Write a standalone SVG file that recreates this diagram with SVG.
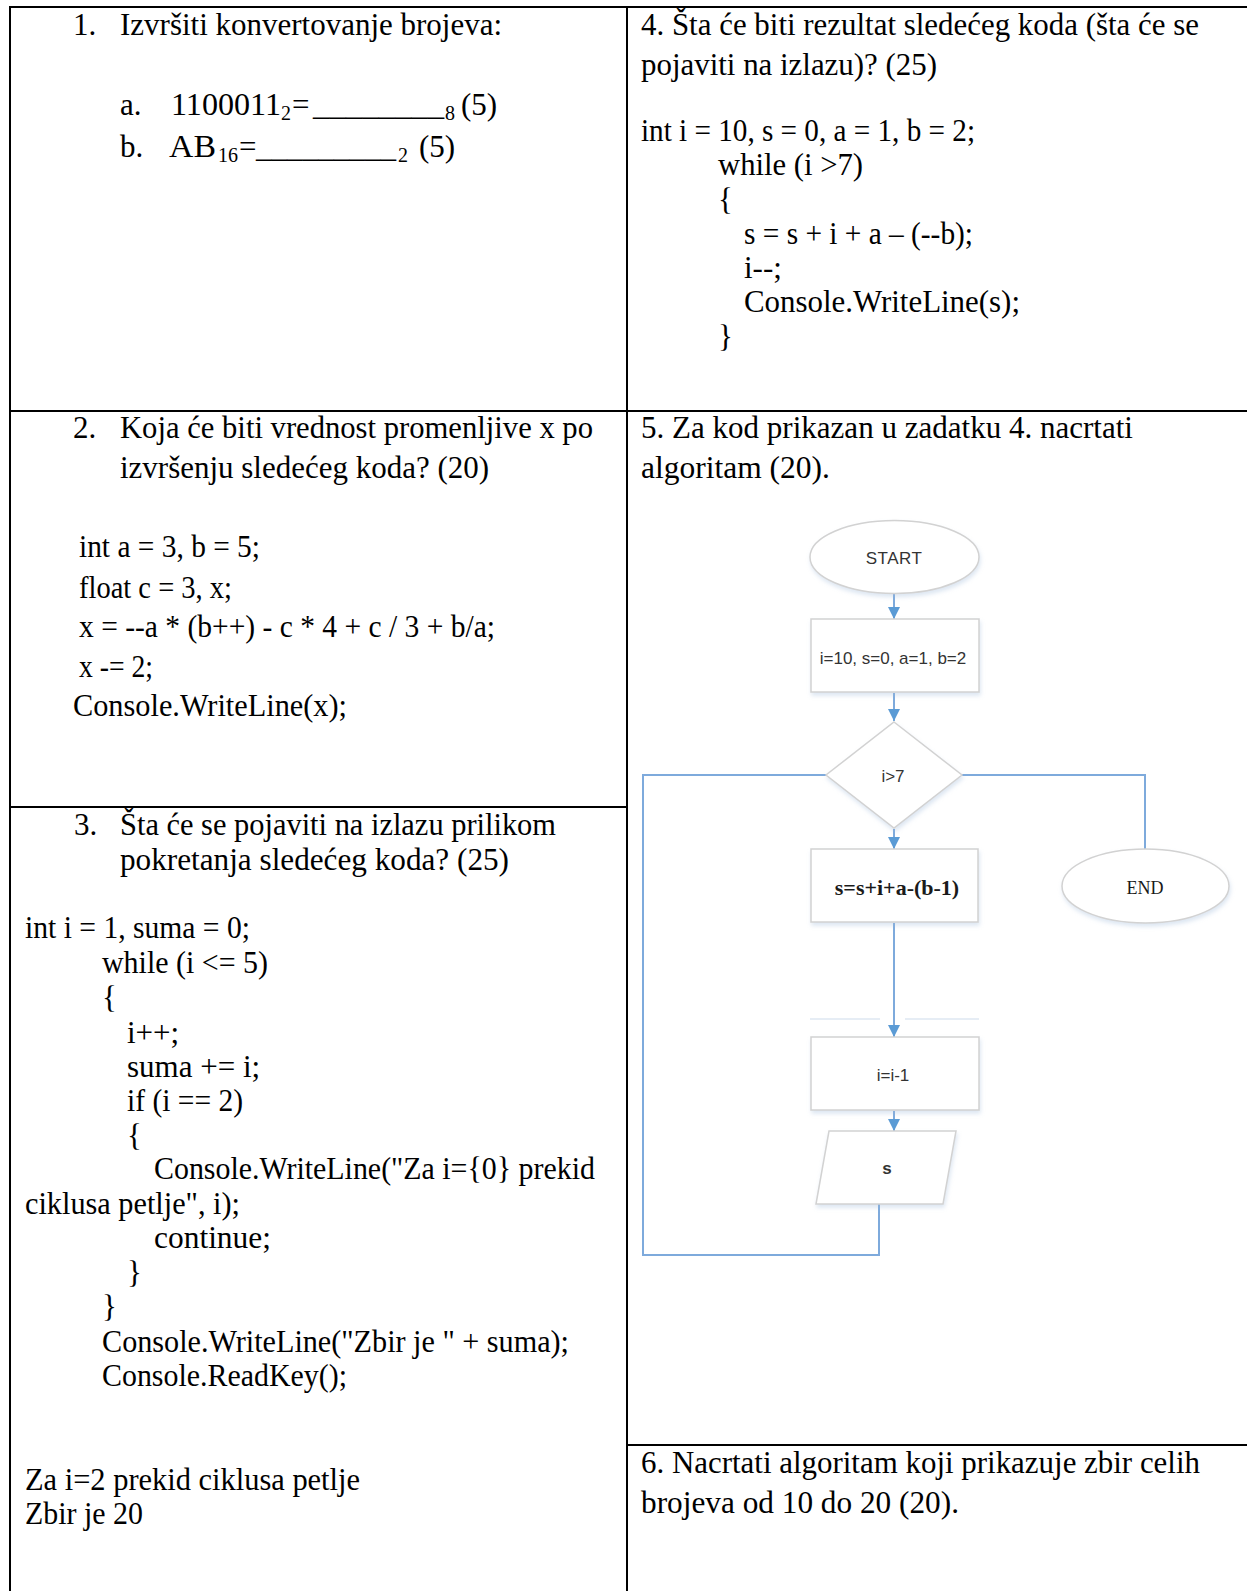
<svg xmlns="http://www.w3.org/2000/svg" width="1247" height="1591" viewBox="0 0 1247 1591">
  <style>
    .t { font-family: "Liberation Serif", "Times New Roman", serif; font-size: 31px; fill: #000; }
    .t text { }
    .sub { font-size: 20px; }
    .grid { stroke: #000; stroke-width: 2; fill: none; }
    .shape { fill: #fff; stroke: #d2d2d2; stroke-width: 1.5; filter: url(#soft); }
    .fl { font-family: "Liberation Sans", Arial, sans-serif; font-size: 17px; fill: #333; text-anchor: middle; }
    .fs { font-family: "Liberation Serif", "Times New Roman", serif; fill: #1a1a1a; text-anchor: middle; }
    .conn { stroke: #7eaadc; stroke-width: 2; fill: none; }
    .faint { stroke: #e6edf5; stroke-width: 2; fill: none; }
  </style>
  <defs>
    <marker id="arrow" viewBox="0 0 12 12" refX="12" refY="6" markerWidth="12" markerHeight="12" markerUnits="userSpaceOnUse" orient="auto">
      <path d="M0,0 L12,6 L0,12 z" fill="#5b9bd5"/>
    </marker>
    <filter id="soft" x="-10%" y="-10%" width="125%" height="135%">
      <feDropShadow dx="1" dy="3" stdDeviation="2" flood-color="#9db8d9" flood-opacity="0.35"/>
    </filter>
  </defs>

  <rect x="0" y="0" width="1247" height="1591" fill="#fff"/>

  <!-- table rules -->
  <g id="table" class="grid">
    <line x1="9" y1="7" x2="1247" y2="7"/>
    <line x1="10" y1="6" x2="10" y2="1591"/>
    <line x1="627" y1="6" x2="627" y2="1591"/>
    <line x1="9" y1="411" x2="1247" y2="411"/>
    <line x1="9" y1="807" x2="627" y2="807"/>
    <line x1="627" y1="1445" x2="1247" y2="1445"/>
  </g>

  <!-- task 1 -->
  <g id="task1" class="t">
    <text x="73" y="35">1.</text>
    <text x="120" y="35" textLength="382" lengthAdjust="spacingAndGlyphs">Izvršiti konvertovanje brojeva:</text>
    <text x="120" y="115">a.</text>
    <text x="171" y="115" textLength="110" lengthAdjust="spacingAndGlyphs">1100011</text>
    <text x="281" y="120" class="sub">2</text>
    <text x="292" y="115">=</text>
    <text x="313" y="115" textLength="131" lengthAdjust="spacingAndGlyphs">________</text>
    <text x="445" y="120" class="sub">8</text>
    <text x="461" y="115">(5)</text>
    <text x="120" y="157">b.</text>
    <text x="169" y="157" textLength="47" lengthAdjust="spacingAndGlyphs">AB</text>
    <text x="218" y="162" class="sub">16</text>
    <text x="239" y="157">=</text>
    <text x="256" y="157" textLength="140" lengthAdjust="spacingAndGlyphs">_________</text>
    <text x="398" y="162" class="sub">2</text>
    <text x="419" y="157">(5)</text>
  </g>

  <!-- task 2 -->
  <g id="task2" class="t">
    <text x="73" y="438">2.</text>
    <text x="120" y="438" textLength="473" lengthAdjust="spacingAndGlyphs">Koja će biti vrednost promenljive x po</text>
    <text x="120" y="478" textLength="369" lengthAdjust="spacingAndGlyphs">izvršenju sledećeg koda? (20)</text>
    <text x="79" y="557" textLength="181" lengthAdjust="spacingAndGlyphs">int a = 3, b = 5;</text>
    <text x="79" y="598" textLength="153" lengthAdjust="spacingAndGlyphs">float c = 3, x;</text>
    <text x="79" y="637" textLength="416" lengthAdjust="spacingAndGlyphs">x = --a * (b++) - c * 4 + c / 3 + b/a;</text>
    <text x="79" y="677" textLength="74" lengthAdjust="spacingAndGlyphs">x -= 2;</text>
    <text x="73" y="716" textLength="274" lengthAdjust="spacingAndGlyphs">Console.WriteLine(x);</text>
  </g>

  <!-- task 3 -->
  <g id="task3" class="t">
    <text x="74" y="835">3.</text>
    <text x="120" y="835" textLength="436" lengthAdjust="spacingAndGlyphs">Šta će se pojaviti na izlazu prilikom</text>
    <text x="120" y="870" textLength="389" lengthAdjust="spacingAndGlyphs">pokretanja sledećeg koda? (25)</text>
    <text x="25" y="938" textLength="225" lengthAdjust="spacingAndGlyphs">int i = 1, suma = 0;</text>
    <text x="102" y="973" textLength="166" lengthAdjust="spacingAndGlyphs">while (i &lt;= 5)</text>
    <text x="102" y="1008">{</text>
    <text x="127" y="1043">i++;</text>
    <text x="127" y="1077">suma += i;</text>
    <text x="127" y="1111" textLength="116" lengthAdjust="spacingAndGlyphs">if (i == 2)</text>
    <text x="127" y="1146">{</text>
    <text x="154" y="1179" textLength="441" lengthAdjust="spacingAndGlyphs">Console.WriteLine("Za i={0} prekid</text>
    <text x="25" y="1214" textLength="215" lengthAdjust="spacingAndGlyphs">ciklusa petlje", i);</text>
    <text x="154" y="1248" textLength="117" lengthAdjust="spacingAndGlyphs">continue;</text>
    <text x="127" y="1283">}</text>
    <text x="102" y="1317">}</text>
    <text x="102" y="1352" textLength="467" lengthAdjust="spacingAndGlyphs">Console.WriteLine("Zbir je " + suma);</text>
    <text x="102" y="1386" textLength="245" lengthAdjust="spacingAndGlyphs">Console.ReadKey();</text>
    <text x="25" y="1490" textLength="335" lengthAdjust="spacingAndGlyphs">Za i=2 prekid ciklusa petlje</text>
    <text x="25" y="1524" textLength="118" lengthAdjust="spacingAndGlyphs">Zbir je 20</text>
  </g>

  <!-- task 4 -->
  <g id="task4" class="t">
    <text x="641" y="35" textLength="558" lengthAdjust="spacingAndGlyphs">4. Šta će biti rezultat sledećeg koda (šta će se</text>
    <text x="641" y="75" textLength="296" lengthAdjust="spacingAndGlyphs">pojaviti na izlazu)? (25)</text>
    <text x="641" y="141" textLength="334" lengthAdjust="spacingAndGlyphs">int i = 10, s = 0, a = 1, b = 2;</text>
    <text x="718" y="175" textLength="145" lengthAdjust="spacingAndGlyphs">while (i &gt;7)</text>
    <text x="718" y="210">{</text>
    <text x="744" y="244" textLength="229" lengthAdjust="spacingAndGlyphs">s = s + i + a – (--b);</text>
    <text x="744" y="278">i--;</text>
    <text x="744" y="312" textLength="276" lengthAdjust="spacingAndGlyphs">Console.WriteLine(s);</text>
    <text x="718" y="347">}</text>
  </g>

  <!-- task 5 -->
  <g id="task5" class="t">
    <text x="641" y="438" textLength="492" lengthAdjust="spacingAndGlyphs">5. Za kod prikazan u zadatku 4. nacrtati</text>
    <text x="641" y="478" textLength="189" lengthAdjust="spacingAndGlyphs">algoritam (20).</text>
  </g>

  <!-- task 6 -->
  <g id="task6" class="t">
    <text x="641" y="1473" textLength="559" lengthAdjust="spacingAndGlyphs">6. Nacrtati algoritam koji prikazuje zbir celih</text>
    <text x="641" y="1513" textLength="318" lengthAdjust="spacingAndGlyphs">brojeva od 10 do 20 (20).</text>
  </g>

  <!-- flowchart connectors -->
  <g id="connectors">
    <line class="conn" x1="894" y1="594" x2="894" y2="619" marker-end="url(#arrow)"/>
    <line class="conn" x1="894" y1="693" x2="894" y2="721" marker-end="url(#arrow)"/>
    <line class="conn" x1="894" y1="829" x2="894" y2="849" marker-end="url(#arrow)"/>
    <line class="conn" x1="894" y1="923" x2="894" y2="1037" marker-end="url(#arrow)"/>
    <line class="conn" x1="894" y1="1111" x2="894" y2="1131" marker-end="url(#arrow)"/>
    <polyline class="conn" points="879,1204 879,1255 643,1255 643,775 826,775"/>
    <polyline class="conn" points="962,775 1145,775 1145,850"/>
  </g>

  <!-- leftover guide strokes above the decrement box -->
  <g id="guides" class="faint">
    <line x1="810" y1="1019" x2="880" y2="1019"/>
    <line x1="905" y1="1019" x2="979" y2="1019"/>
  </g>

  <!-- flowchart nodes -->
  <g id="node-start">
    <ellipse class="shape" cx="894.5" cy="557" rx="84.5" ry="36.5"/>
    <text class="fl" x="894" y="564" font-size="16" letter-spacing="0.5">START</text>
  </g>
  <g id="node-init">
    <rect class="shape" x="811" y="619" width="168" height="73"/>
    <text class="fl" x="893" y="664">i=10, s=0, a=1, b=2</text>
  </g>
  <g id="node-cond">
    <polygon class="shape" points="894,722 962,775 894,828 826,775"/>
    <text class="fl" x="893" y="782">i&gt;7</text>
  </g>
  <g id="node-body">
    <rect class="shape" x="811" y="849" width="167" height="73"/>
    <text class="fs" x="897" y="895" font-size="22" font-weight="bold">s=s+i+a-(b-1)</text>
  </g>
  <g id="node-end">
    <ellipse class="shape" cx="1145.5" cy="886" rx="83.5" ry="37"/>
    <text class="fs" x="1145" y="894" font-size="18">END</text>
  </g>
  <g id="node-dec">
    <rect class="shape" x="811" y="1037" width="168" height="73"/>
    <text class="fl" x="893" y="1081">i=i-1</text>
  </g>
  <g id="node-out">
    <polygon class="shape" points="829,1131 956,1131 943,1204 816,1204"/>
    <text class="fl" x="887" y="1174" font-weight="bold">s</text>
  </g>
</svg>
